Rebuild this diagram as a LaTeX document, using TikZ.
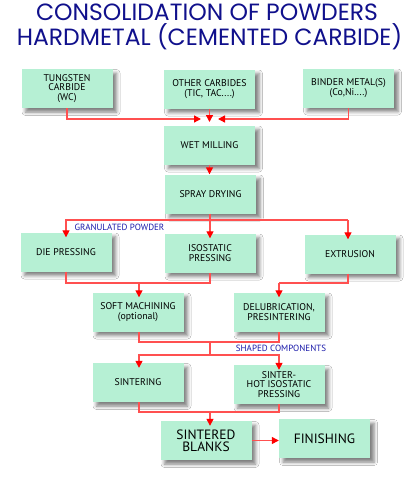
\documentclass[tikz,border=0pt]{standalone}
\usepackage{fontspec}
\setmainfont{PT Sans}
\newfontfamily\titlefont{Poppins}
\usetikzlibrary{arrows.meta,shadows.blur,calc}
\definecolor{boxfill}{RGB}{182,240,212}
\definecolor{titleblue}{RGB}{16,16,140}
\definecolor{lblblue}{RGB}{26,26,170}
\definecolor{lnred}{RGB}{255,80,80}
\definecolor{tipred}{RGB}{255,0,0}
\begin{document}
\begin{tikzpicture}[x=1pt,y=-1pt,
  box/.style={rectangle, fill=boxfill, minimum width=91pt, minimum height=39pt,
    inner sep=0pt, align=center, font=\fontsize{9.8}{9.2}\selectfont,
    blur shadow={shadow xshift=4pt, shadow yshift=-4pt, shadow blur radius=3.5pt, shadow opacity=50}},
  bigbox/.style={box, font=\fontsize{13.5}{12}\selectfont},
  ln/.style={draw=lnred, line width=1.3pt},
  arr/.style={ln, -{Triangle[length=7pt,width=7pt,color=tipred]}},
  arrin/.style={arr, shorten >=-5pt},
  lbl/.style={text=lblblue, font=\fontsize{9}{9}\selectfont, inner sep=0pt},
  ttl/.style={text=titleblue, font=\titlefont\fontsize{23.5}{23.5}\selectfont, inner sep=0pt}
]
\useasboundingbox (0,0) rectangle (417,479);
\fill[white] (0,0) rectangle (417,479);

\node[ttl] (t1) at (207,12) {CONSOLIDATION OF POWDERS};
\node[ttl] (t2) at (209.5,37) {HARDMETAL (CEMENTED CARBIDE)};

\node[box] (wc) at (67,88.5) {TUNGSTEN\\CARBIDE\\(WC)};
\node[box] (oc) at (209.5,89) {OTHER CARBIDES\\(TIC, TAC....)};
\node[box] (bm) at (348.5,88) {BINDER METAL(S)\\(Co,Ni....)};
\node[box] (wm) at (209.5,145) {WET MILLING};
\node[box] (sd) at (210.5,194) {SPRAY DRYING};
\node[box] (dp) at (66,252) {DIE PRESSING};
\node[box] (ip) at (210,253) {ISOSTATIC\\PRESSING};
\node[box] (ex) at (350,254) {EXTRUSION};
\node[box] (sm) at (138,312) {SOFT MACHINING\\(optional)};
\node[box] (dl) at (279,312) {DELUBRICATION,\\PRESINTERING};
\node[box] (si) at (138,382.5) {SINTERING};
\node[box] (hip) at (279,384.5) {SINTER-\\HOT ISOSTATIC\\PRESSING};
\node[bigbox] (sb) at (206,440.5) {SINTERED\\BLANKS};
\node[bigbox] (fin) at (324.5,438.5) {FINISHING};

\node[lbl] (gp) at (119.5,227.5) {GRANULATED POWDER};
\node[lbl] (sc) at (281,348.5) {SHAPED COMPONENTS};

% top merge
\coordinate (jl) at (201,119);
\coordinate (jr) at (218,119);
\coordinate (jd) at (209.5,122);
\draw[arr] (wc.south) |- (jl);
\draw[arr] (bm.south) |- (jr);
\draw[arr] (oc.south) -- (jd);
\draw[arr] (wm.south) -- (wm.south |- sd.north);

% granulated powder
\coordinate (g) at (210,220);
\draw[ln] (sd.south -| g) -- (g);
\draw[arrin] (g) -- (ip.north);
\draw[arrin] (g) -| (dp.north);
\coordinate (gx) at (348,220);
\draw[ln] (g) -- (gx);
\draw[arrin] (gx) -- (gx |- ex.north);

% to soft machining / delubrication
\coordinate (k1) at (139,283);
\draw[ln] (dp.south) |- (k1) -| (ip.south);
\draw[arrin] (k1) -- (k1 |- sm.north);
\coordinate (k2) at (279,283);
\draw[ln] (ex.south -| gx) |- (k2);
\draw[arrin] (k2) -- (dl.north);

% shaped components
\coordinate (k3) at (210,342);
\coordinate (k4) at (210,355);
\draw[ln] (k1 |- sm.south) |- (k3) -| (dl.south);
\draw[ln] (k3) -- (k4);
\draw[arrin] (k4) -| (k1 |- si.north);
\draw[arrin] (k4) -| (hip.north);

% sintered blanks
\coordinate (k5) at (210,412);
\draw[ln] (k1 |- si.south) |- (k5) -| (hip.south);
\draw[arrin] (k5) -- (k5 |- sb.north);
\draw[arr] (sb.east) -- (sb.east -| fin.west);
\end{tikzpicture}
\end{document}
